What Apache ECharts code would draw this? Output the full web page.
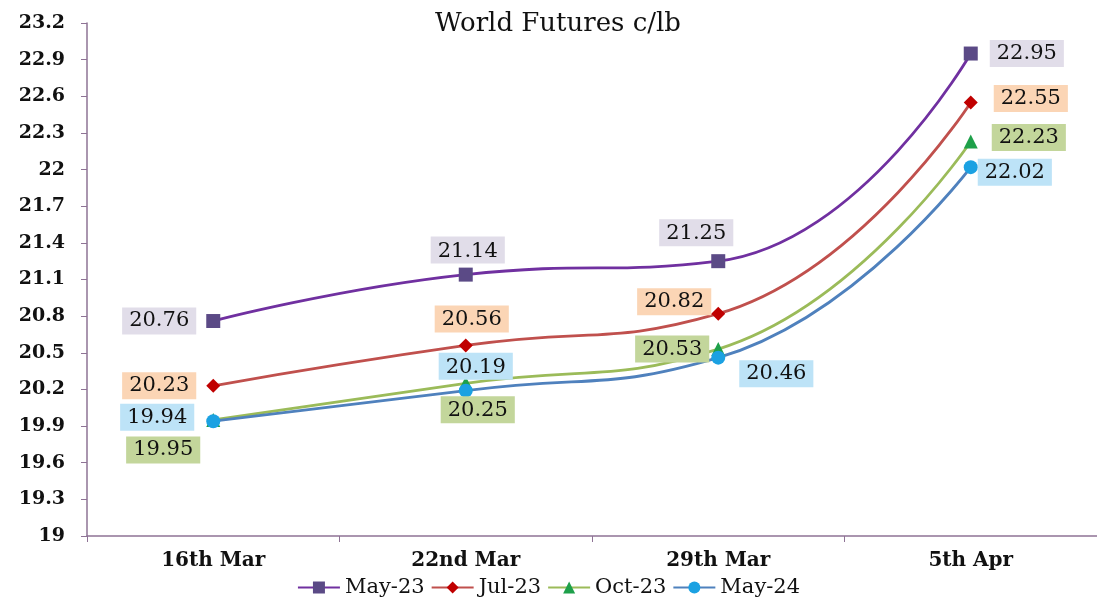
<!DOCTYPE html>
<html>
<head>
<meta charset="utf-8">
<script src="https://cdn.jsdelivr.net/npm/echarts@6/dist/echarts.min.js"></script>
<style>
  html, body { margin: 0; padding: 0; background: #fff; }
  #chart { width: 1097px; height: 598px; }
</style>
</head>
<body>
<div id="chart"></div>
<script>
// data
const categories = ['16th Mar', '22nd Mar', '29th Mar', '5th Apr']
const may23 = [20.76, 21.14, 21.25, 22.95]
const jul23 = [20.23, 20.56, 20.82, 22.55]
const oct23 = [19.95, 20.25, 20.53, 22.23]
const may24 = [19.94, 20.19, 20.46, 22.02]

const FONT = '"DejaVu Serif", serif'

// label placement per point (style only)
const seriesDefs = [
  {
    name: 'May-23', data: may23, line: '#7030a0', marker: '#5b4a86', symbol: 'rect', size: 14, bg: '#e1dde9',
    labels: [['left', [-2, 0]], ['top', [2, 4]], ['top', [-22, 0]], ['right', [4, 0]]]
  },
  {
    name: 'Jul-23', data: jul23, line: '#c0504d', marker: '#c00000', symbol: 'diamond', size: 14, bg: '#fbd5b5',
    labels: [['left', [-2, 0]], ['top', [6, 2]], ['left', [8, -12]], ['right', [8, -4]]]
  },
  {
    name: 'Oct-23', data: oct23, line: '#9bbb59', marker: '#1ea04a', symbol: 'triangle', size: 14, bg: '#c3d69b',
    labels: [['left', [2, 30]], ['bottom', [12, -2]], ['left', [6, 0]], ['right', [6, -4]]]
  },
  {
    name: 'May-24', data: may24, line: '#4f81bd', marker: '#1ba1e2', symbol: 'circle', size: 14, bg: '#bde3f7',
    labels: [['left', [-4, -4]], ['top', [10, 4]], ['right', [6, 16]], ['right', [-8, 5]]]
  }
]

const chart = echarts.init(document.getElementById('chart'))

chart.setOption({
  backgroundColor: '#fff',
  title: {
    text: 'World Futures c/lb',
    left: 553,
    textAlign: 'center',
    top: 6,
    textStyle: { fontFamily: FONT, fontSize: 26, fontWeight: 'normal', color: '#111' }
  },
  legend: {
    bottom: -5,
    left: 'center',
    itemWidth: 42,
    itemHeight: 15,
    itemGap: 6,
    textStyle: { fontFamily: FONT, fontSize: 21, color: '#111' },
    data: seriesDefs.map(s => s.name)
  },
  grid: { left: 87, top: 23, width: 1020, height: 513 },
  xAxis: {
    type: 'category',
    data: categories,
    boundaryGap: true,
    axisLine: { lineStyle: { color: '#8e7395', width: 1.5 } },
    axisTick: { show: true, length: 6, lineStyle: { color: '#8e7395' } },
    axisLabel: { fontFamily: FONT, fontSize: 20, fontWeight: 'bold', color: '#111', margin: 15 }
  },
  yAxis: {
    type: 'value',
    min: 19,
    max: 23.2,
    interval: 0.3,
    splitLine: { show: false },
    axisLine: { show: true, lineStyle: { color: '#8e7395', width: 1.5 } },
    axisTick: { show: true, length: 6, lineStyle: { color: '#8e7395' } },
    axisLabel: {
      fontFamily: FONT, fontSize: 19, fontWeight: 'bold', color: '#111', margin: 22,
      formatter: v => String(Math.round(v * 10) / 10)
    }
  },
  series: seriesDefs.map(s => ({
    name: s.name,
    type: 'line',
    smooth: 0.5,
    symbol: s.symbol,
    symbolSize: s.size,
    lineStyle: { color: s.line, width: 2.8 },
    itemStyle: { color: s.marker },
    data: s.data.map((v, i) => ({
      value: v,
      label: {
        show: true,
        position: s.labels[i][0],
        offset: s.labels[i][1],
        distance: 8,
        formatter: p => p.value.toFixed(2),
        fontFamily: FONT,
        fontSize: 21,
        color: '#111',
        backgroundColor: s.bg,
        padding: [4, 7, 2, 7]
      }
    }))
  }))
})
</script>
</body>
</html>
